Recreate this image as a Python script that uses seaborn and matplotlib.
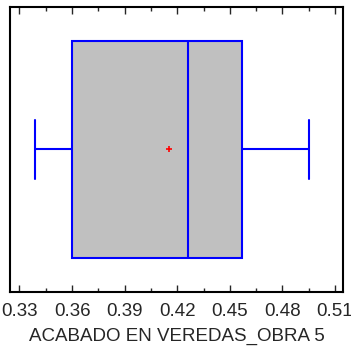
import matplotlib
matplotlib.use("Agg")
import matplotlib.pyplot as plt
import seaborn as sns
import pandas as pd
from matplotlib.ticker import MultipleLocator

values = [0.339, 0.360, 0.426, 0.457, 0.495]
label = "ACABADO EN VEREDAS_OBRA 5"
xticks = [0.33, 0.36, 0.39, 0.42, 0.45, 0.48, 0.51]

df = pd.DataFrame({label: values})

sns.set_style("white")
plt.rcParams["font.family"] = ["Liberation Sans", "DejaVu Sans"]

fig = plt.figure(figsize=(3.51, 3.52), dpi=100)
ax = fig.add_axes([0.0285, 0.171, 0.949, 0.809])

sns.boxplot(
    data=df, x=label, ax=ax, whis=(0, 100), width=0.76,
    color="#c0c0c0", linecolor="#0000ff", linewidth=1.5,
    showmeans=True, capwidths=0.21,
    meanprops=dict(marker="+", markeredgecolor="red", markersize=4, markeredgewidth=1.2),
)

ax.set_xlim(0.3246, 0.5146)
ax.set_ylim(0.5, -0.5)
ax.set_xticks(xticks)
ax.set_xticklabels([f"{t:.2f}" for t in xticks], fontsize=13.5)
ax.xaxis.set_minor_locator(MultipleLocator(0.015))
ax.tick_params(axis="x", which="both", direction="in", top=True, bottom=True, pad=8)
ax.tick_params(axis="x", which="major", length=5, width=1)
ax.tick_params(axis="x", which="minor", length=3, width=1)
ax.set_yticks([])
ax.set_ylabel("")
ax.set_xlabel(label, fontsize=13.5, labelpad=6)
for s in ax.spines.values():
    s.set_visible(True)
    s.set_color("black")
    s.set_linewidth(1.5)

plt.savefig("out.png", dpi=100)
